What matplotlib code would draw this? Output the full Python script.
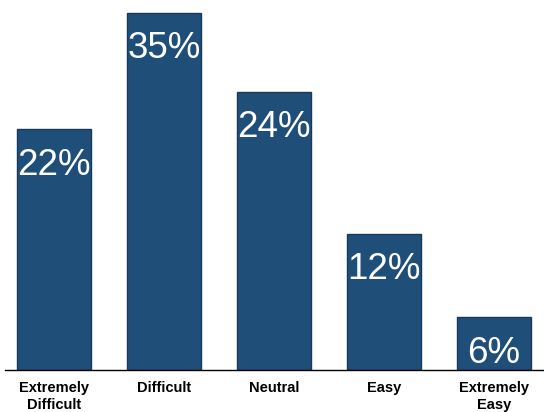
import matplotlib
matplotlib.use("Agg")
import matplotlib.pyplot as plt

# Data
categories = ["Extremely\nDifficult", "Difficult", "Neutral", "Easy", "Extremely\nEasy"]
labels = ["22%", "35%", "24%", "12%", "6%"]
heights = [21.9, 32.5, 25.3, 12.4, 4.8]

bar_color = "#1f4e79"
edge_color = "#173a5c"

plt.rcParams["font.family"] = ["Liberation Sans Narrow", "Liberation Sans", "DejaVu Sans"]

fig = plt.figure(figsize=(5.44, 4.12), dpi=100)
ax = fig.add_axes([5 / 544, 42 / 412, 539 / 544, 370 / 412])

x = range(len(categories))
bars = ax.bar(x, heights, width=0.67, color=bar_color, edgecolor=edge_color, linewidth=1)

for b, lab in zip(bars, labels):
    ax.annotate(lab, (b.get_x() + b.get_width() / 2, b.get_height()),
                xytext=(0, -26), textcoords="offset points",
                ha="center", va="center", color="white", fontsize=26.5)

ax.set_xlim(-0.445, 4.455)
ax.set_ylim(0, 370 / 11)
ax.set_xticks(list(x))
ax.set_xticklabels(categories, fontsize=10.5, fontweight="bold", linespacing=1.25)
ax.tick_params(axis="x", length=0, pad=8)
ax.set_yticks([])

for side in ["top", "right", "left"]:
    ax.spines[side].set_visible(False)
ax.spines["bottom"].set_color("black")
ax.spines["bottom"].set_linewidth(1)

fig.savefig("out.png", dpi=100)
